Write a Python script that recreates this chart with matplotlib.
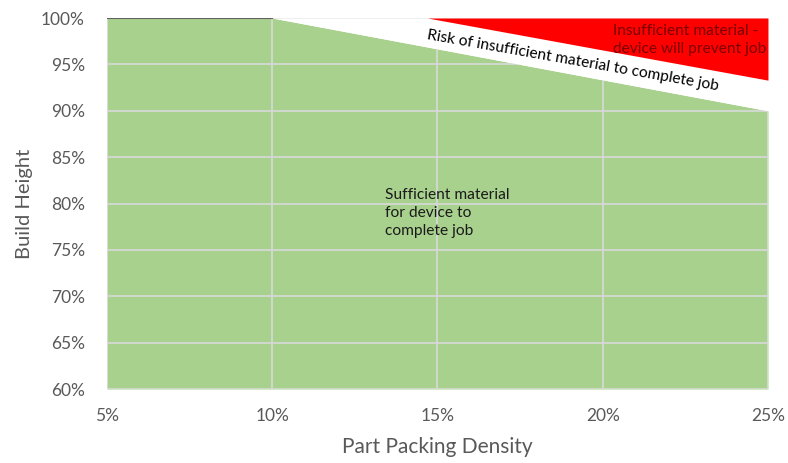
import matplotlib
matplotlib.use("Agg")
import matplotlib.pyplot as plt
import numpy as np

density = [5, 10, 15, 20, 25]
safe_height = [100, 100, 96.67, 93.33, 90]
red_density = [14.7, 25]
red_height = [100, 93.3]

plt.rcParams['font.family'] = ['Lato', 'DejaVu Sans']

fig = plt.figure(figsize=(7.88, 4.63), dpi=100)
ax = fig.add_axes([0.1358, 0.1598, 0.8388, 0.8013])

ax.fill_between(density, 60, safe_height, color='#A9D18E', lw=0, zorder=1)
# white risk band covers the grid
ax.fill_between(density, safe_height, 100, color='white', lw=0, zorder=3)
ax.plot(density[:2], safe_height[:2], color='#606060', lw=1.5, zorder=4)
ax.fill_between(red_density, red_height, 100, color='#FF0000', lw=0, zorder=3)

ax.set_xlim(5, 25)
ax.set_ylim(60, 100)
ax.set_xticks(density)
ax.set_xticklabels([f"{d}%" for d in density])
ax.set_yticks(np.arange(60, 101, 5))
ax.set_yticklabels([f"{v}%" for v in range(60, 101, 5)])
ax.grid(True, color='#D9D9D9', lw=1.2, zorder=2)
ax.set_axisbelow(False)
for s in ax.spines.values():
    s.set_visible(False)
ax.tick_params(length=0, labelsize=12.5, colors='#595959')
ax.tick_params(axis='x', pad=14)
ax.tick_params(axis='y', pad=16)

ax.set_xlabel("Part Packing Density", fontsize=15, color='#595959', labelpad=9)
ax.set_ylabel("Build Height", fontsize=14.5, color='#595959', labelpad=6)

ax.text(13.41, 79.0, "Sufficient material\nfor device to\ncomplete job", fontsize=11.2,
        color='#1a1a1a', va='center', ha='left', linespacing=1.35, zorder=5)
ax.text(19.1, 95.4, "Risk of insufficient material to complete job", fontsize=11.2,
        color='black', rotation=-10, ha='center', va='center', zorder=5,
        rotation_mode='anchor')
ax.text(20.3, 97.6, "Insufficient material -\ndevice will prevent job", fontsize=11.2,
        color='#7a0000', ha='left', va='center', linespacing=1.4, zorder=5)

fig.savefig("out.png", dpi=100)
